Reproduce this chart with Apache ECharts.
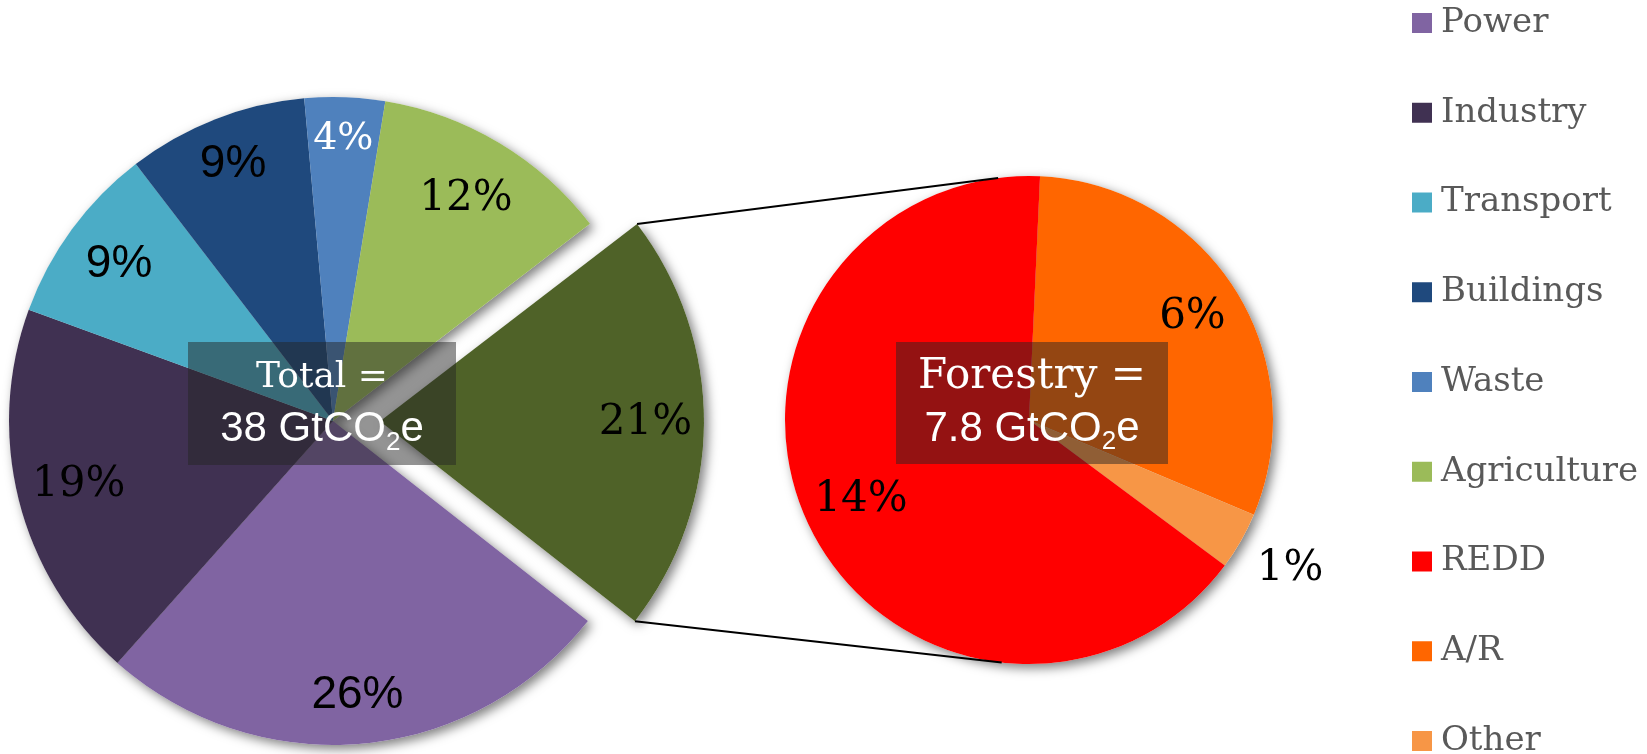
<!DOCTYPE html>
<html>
<head>
<meta charset="utf-8">
<script src="https://cdn.jsdelivr.net/npm/echarts@6/dist/echarts.min.js"></script>
<style>
  html, body { margin: 0; padding: 0; background: #fff; }
  #chart { width: 1647px; height: 754px; }
</style>
</head>
<body>
<div id="chart"></div>
<script>
// ---------------- DATA ----------------
const leftNames  = ['Power', 'Industry', 'Transport', 'Buildings', 'Waste', 'Agriculture', 'Forestry'];
const leftValues = [26, 19, 9, 9, 4, 12, 21];           // % of total emissions
const rightNames  = ['A/R', 'Other', 'REDD'];
const rightValues = [6.4, 0.8, 13.7];                    // % of total emissions (forestry breakdown)
const legendNames = ['Power', 'Industry', 'Transport', 'Buildings', 'Waste', 'Agriculture', 'REDD', 'A/R', 'Other'];
const leftTitle = 'Total =';
const leftAmount = '38';
const rightTitle = 'Forestry =';
const rightAmount = '7.8';

// ---------------- STYLE ----------------
const colors = {
  'Power': '#8064A2', 'Industry': '#403152', 'Transport': '#4BACC6', 'Buildings': '#1F497D',
  'Waste': '#4F81BD', 'Agriculture': '#9BBB59', 'Forestry': '#4F6228',
  'REDD': '#FF0000', 'A/R': '#FF6600', 'Other': '#F79646'
};
const SERIF = '"DejaVu Serif", serif';
const SANS = '"Liberation Sans", Arial, sans-serif';
const sansLabels = { 'Power': true, 'Transport': true, 'Buildings': true };
const whiteLabels = { 'Waste': true };
const labelSize = { 'Power': 46, 'Transport': 46, 'Buildings': 46, 'Waste': 38 };
// radial position of each label as a fraction of the pie radius
const labelRadius = {
  'Power': 0.84, 'Industry': 0.80, 'Transport': 0.81, 'Buildings': 0.84, 'Waste': 0.86,
  'Agriculture': 0.79, 'Forestry': 0.81, 'REDD': 0.75, 'A/R': 0.78, 'Other': 1.22
};

const L = { cx: 333, cy: 421, r: 324, offset: 47, startAngle: -38.1 };
const R = { cx: 1029, cy: 420, r: 244, startAngle: 87.4 };
const boxL = { cx: 322, cy: 403.5, w: 268, h: 123, titleSize: 36 };
const boxR = { cx: 1032, cy: 403, w: 272, h: 122, titleSize: 42 };

const shadow = { shadowBlur: 11, shadowColor: 'rgba(0,0,0,0.5)', shadowOffsetX: 4, shadowOffsetY: 4 };

function fmt(v) { return Math.round(v) + '%'; }

function labelStyle(name) {
  return {
    show: true,
    position: 'inside',
    fontSize: labelSize[name] || 42,
    fontFamily: sansLabels[name] ? SANS : SERIF,
    color: whiteLabels[name] ? '#fff' : '#000',
    formatter: p => fmt(p.value)
  };
}

const common = {
  type: 'pie', clockwise: true, silent: true, avoidLabelOverlap: false,
  labelLine: { show: false }, emphasis: { disabled: true }
};

function mainPie(names, values, P, z, extra) {
  return Object.assign({}, common, {
    z: z, center: [P.cx, P.cy], radius: [0, P.r], startAngle: P.startAngle,
    selectedMode: P.offset ? 'single' : false, selectedOffset: P.offset || 0,
    label: { show: false }
  }, extra || {}, {
    data: names.map((n, i) => ({
      name: n, value: values[i], selected: n === 'Forestry',
      itemStyle: extra && extra.itemStyle ? undefined : { color: colors[n] }
    }))
  });
}

// label rings: one ring per distinct radial fraction; label sits at ring mid-radius
function labelRings(names, values, P) {
  const groups = {};
  names.forEach(n => { const f = labelRadius[n]; (groups[f] = groups[f] || []).push(n); });
  return Object.keys(groups).map(fs => {
    const f = parseFloat(fs);
    const a = P.r * (2 * f - 1);
    return Object.assign({}, common, {
      z: 4, center: [P.cx, P.cy], radius: [Math.min(P.r, a), Math.max(P.r, a)],
      startAngle: P.startAngle,
      selectedMode: P.offset ? 'single' : false, selectedOffset: P.offset || 0,
      itemStyle: { color: 'rgba(0,0,0,0)' },
      data: names.map((n, i) => ({
        name: n, value: values[i], selected: n === 'Forestry',
        label: groups[fs].indexOf(n) >= 0 ? labelStyle(n) : { show: false }
      }))
    });
  });
}

// ---------------- GEOMETRY for connectors ----------------
const deg = Math.PI / 180;
const totalL = leftValues.reduce((a, b) => a + b, 0);
const fIdx = leftNames.indexOf('Forestry');
const before = leftValues.slice(0, fIdx).reduce((a, b) => a + b, 0);
const startCW = 90 - L.startAngle;
const fStart = startCW + before / totalL * 360;
const fEnd = fStart + leftValues[fIdx] / totalL * 360;
const fMid = (fStart + fEnd) / 2;
const tip = [L.cx + L.offset * Math.sin(fMid * deg), L.cy - L.offset * Math.cos(fMid * deg)];
const cornerA = [tip[0] + L.r * Math.sin(fStart * deg), tip[1] - L.r * Math.cos(fStart * deg)];
const cornerB = [tip[0] + L.r * Math.sin(fEnd * deg), tip[1] - L.r * Math.cos(fEnd * deg)];

function tangent(P, pickTop) {
  const dx = P[0] - R.cx, dy = P[1] - R.cy;
  const D = Math.sqrt(dx * dx + dy * dy);
  const phi = Math.atan2(dy, dx);
  const a = Math.acos(R.r / D);
  const t1 = [R.cx + R.r * Math.cos(phi + a), R.cy + R.r * Math.sin(phi + a)];
  const t2 = [R.cx + R.r * Math.cos(phi - a), R.cy + R.r * Math.sin(phi - a)];
  if (pickTop) return t1[1] < t2[1] ? t1 : t2;
  return t1[1] > t2[1] ? t1 : t2;
}
const topCorner = cornerA[1] < cornerB[1] ? cornerA : cornerB;
const botCorner = cornerA[1] < cornerB[1] ? cornerB : cornerA;
const tTop = tangent(topCorner, true);
const tBot = tangent(botCorner, false);

function box(b, title, amount, z) {
  return [
    { type: 'rect', z: z, shape: { x: b.cx - b.w / 2, y: b.cy - b.h / 2, width: b.w, height: b.h },
      style: { fill: 'rgba(37,37,37,0.49)' } },
    { type: 'text', z: z + 1, x: b.cx, y: b.cy,
      style: {
        text: '{t|' + title + '}\n{n|' + amount + ' GtCO}{s|2}{n|e}',
        align: 'center', verticalAlign: 'middle', fill: '#fff',
        rich: {
          t: { fontFamily: SERIF, fontSize: b.titleSize, lineHeight: 52, fill: '#fff' },
          n: { fontFamily: SANS, fontSize: 42, lineHeight: 52, fill: '#fff' },
          s: { fontFamily: SANS, fontSize: 26, verticalAlign: 'bottom', fill: '#fff' }
        }
      } }
  ];
}

const chart = echarts.init(document.getElementById('chart'), null, { renderer: 'canvas' });

const option = {
  animation: false,
  backgroundColor: '#fff',
  legend: {
    data: legendNames,
    orient: 'vertical',
    left: 1412, top: 6, padding: 0, height: 820,
    itemWidth: 20, itemHeight: 20, itemGap: 55.75,
    icon: 'rect',
    selectedMode: false,
    textStyle: { fontFamily: SERIF, fontSize: 34, color: '#595959', padding: [0, 0, 0, 4] }
  },
  series: [
    mainPie(leftNames, leftValues, L, 3),
    mainPie(rightNames, rightValues, R, 3),
    mainPie(leftNames, leftValues, L, 2, { itemStyle: Object.assign({ color: '#fff' }, shadow) }),
    mainPie(rightNames, rightValues, R, 2, { itemStyle: Object.assign({ color: '#fff' }, shadow) })
  ].concat(labelRings(leftNames, leftValues, L), labelRings(rightNames, rightValues, R)),
  graphic: {
    elements: [
      { type: 'line', z: 50, shape: { x1: topCorner[0], y1: topCorner[1], x2: tTop[0], y2: tTop[1] },
        style: { stroke: '#000', lineWidth: 2 } },
      { type: 'line', z: 50, shape: { x1: botCorner[0], y1: botCorner[1], x2: tBot[0], y2: tBot[1] },
        style: { stroke: '#000', lineWidth: 2 } }
    ].concat(box(boxL, leftTitle, leftAmount, 60), box(boxR, rightTitle, rightAmount, 60))
  }
};
chart.setOption(option);
</script>
</body>
</html>
